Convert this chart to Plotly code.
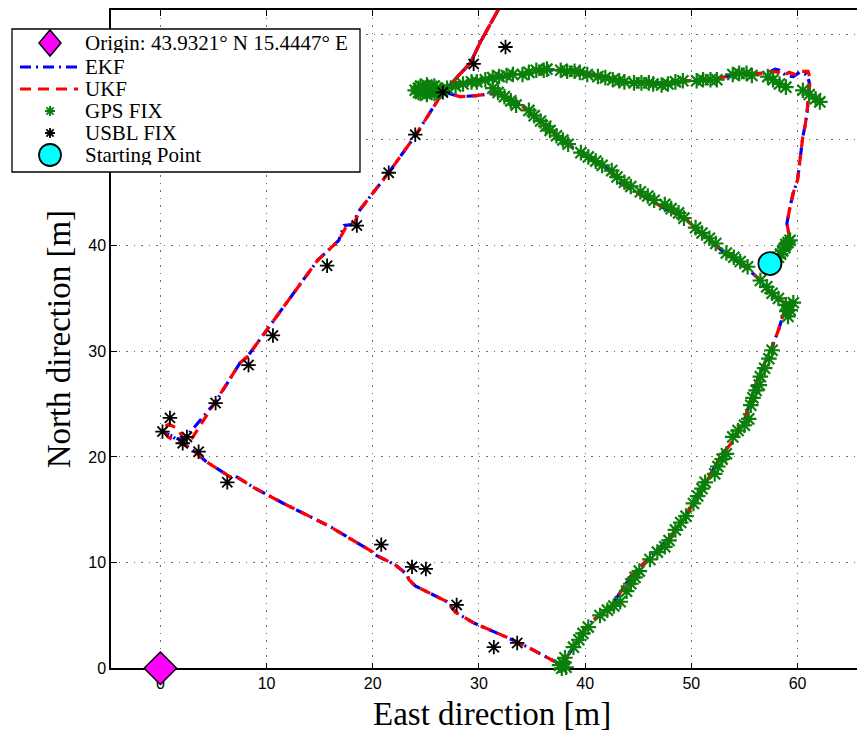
import plotly.graph_objects as go

# ---------------- data (metres, East / North) ----------------
ukf_x = [57.4, 58.2, 59.3, 59.0, 59.3, 59.6, 60.0, 60.5, 60.7, 60.9, 61.0, 61.2, 61.0, 60.4, 59.8, 59.2,
         58.7, 58.2, 57.6, 57.0, 56.5, 54.8, 53.4, 51.8, 49.6, 48.0, 46.4, 44.3, 42.7, 40.8, 39.5, 37.4,
         36.1, 33.9, 31.7, 30.1, 28.0, 26.6, 25.5,
         26.6, 29.2, 30.1, 31.8, 33.5, 31.8, 30.1, 29.2, 26.6, 24.0, 21.5, 18.8, 18.3, 17.5, 16.8, 15.3,
         14.8, 11.6, 8.2, 7.5, 5.2, 3.0, 2.4, 1.6, 0.8, 0.2, 0.7, 1.6, 2.4,
         3.1, 4.4, 6.6, 6.9, 8.8, 11.6, 16.0, 17.0, 20.0, 20.1, 22.1, 23.2, 23.4, 24.0, 27.0, 27.8, 29.5,
         32.7, 34.6, 37.4,
         37.9, 38.9, 39.5, 40.8, 42.4, 44.3, 45.2, 46.8, 48.0, 49.2, 50.2, 51.5, 52.7, 54.0, 55.1, 55.7,
         56.2, 57.6, 58.2, 58.7, 59.3, 59.0, 58.6, 57.3, 56.2, 55.4, 54.0, 52.4, 50.2, 49.4, 47.7, 44.9,
         43.3, 42.1, 39.3, 36.7, 34.2, 32.0, 30.4, 29.8, 28.2, 27.0, 26.5]
ukf_y = [38.3, 38.9, 40.5, 42.1, 43.7, 45.0, 46.2, 50.3, 51.3, 52.6, 53.8, 55.7, 56.5, 56.5, 56.2, 56.4,
         56.1, 56.4, 56.5, 56.4, 56.3, 56.3, 56.0, 55.7, 55.6, 55.4, 55.4, 55.4, 55.7, 56.2, 56.5, 56.6,
         56.6, 56.2, 55.9, 55.7, 55.4, 54.9, 54.7,
         54.5, 57.3, 59.2, 62.3, 64.5, 62.3, 59.2, 57.3, 54.5, 50.4, 46.9, 43.4, 42.2, 41.8, 40.5, 39.1,
         38.6, 34.2, 29.5, 28.9, 25.2, 21.8, 21.4, 22.7, 23.1, 22.7, 21.9, 21.4, 21.1,
         20.6, 19.5, 18.1, 18.3, 17.1, 15.6, 13.4, 12.8, 11.0, 10.8, 9.8, 8.9, 8.4, 7.8, 6.3, 5.3, 4.3,
         2.9, 2.0, 0.5,
         0.5, 2.0, 3.0, 4.6, 5.8, 8.7, 9.6, 11.2, 12.4, 14.0, 15.6, 17.8, 20.0, 21.6, 23.8, 25.7,
         27.3, 30.4, 32.0, 33.6, 34.0, 34.5, 34.7, 35.6, 37.0, 37.7, 38.7, 39.9, 41.8, 42.6, 43.4, 45.0,
         45.9, 47.3, 48.9, 51.0, 53.1, 54.5, 54.3, 54.2, 54.1, 54.4, 54.6]

ekf_x = [57.4, 58.2, 59.3, 59.0, 59.3, 59.6, 60.0, 60.5, 60.7, 60.9, 61.0, 61.1, 60.8, 60.2, 59.6, 58.9,
         58.3, 57.9, 57.3, 56.5, 54.8, 53.4, 51.8, 49.6, 48.0, 46.4, 44.3, 42.7, 40.8, 39.5, 37.4,
         36.1, 33.9, 31.7, 30.1, 28.0, 26.6, 25.5,
         26.6, 29.2, 30.1, 31.8, 33.5, 31.8, 30.1, 29.2, 26.6, 24.0, 21.5, 18.8, 18.0, 17.3, 16.8, 15.3,
         14.8, 11.6, 8.2, 7.5, 5.2, 2.6, 1.9, 0.2, 1.0, 2.4,
         3.1, 4.4, 6.6, 6.9, 8.8, 11.6, 16.0, 17.0, 20.0, 20.1, 22.1, 23.2, 23.4, 24.0, 27.0, 27.8, 29.5,
         32.7, 34.6, 37.4,
         37.9, 38.9, 39.5, 40.8, 42.4, 44.3, 45.2, 46.8, 48.0, 49.2, 50.2, 51.5, 52.7, 54.0, 55.1, 55.7,
         56.2, 57.6, 58.2, 58.7, 59.3, 59.0, 58.6, 57.3, 56.2, 55.4, 54.0, 52.4, 50.2, 49.4, 47.7, 44.9,
         43.3, 42.1, 39.3, 36.7, 34.2, 32.0, 30.4, 29.8, 28.2, 27.0, 26.5]
ekf_y = [38.3, 38.9, 40.5, 42.1, 43.7, 45.0, 46.2, 50.3, 51.3, 52.6, 53.8, 55.5, 56.2, 56.4, 56.0, 56.1,
         56.6, 56.7, 56.4, 56.3, 56.3, 56.0, 55.7, 55.6, 55.4, 55.4, 55.4, 55.7, 56.2, 56.5, 56.6,
         56.6, 56.2, 55.9, 55.7, 55.4, 54.9, 54.7,
         54.5, 57.3, 59.2, 62.3, 64.5, 62.3, 59.2, 57.3, 54.5, 50.4, 46.9, 43.4, 42.0, 41.9, 40.5, 39.1,
         38.6, 34.2, 29.5, 28.9, 25.2, 22.1, 21.6, 22.4, 22.0, 21.1,
         20.6, 19.5, 18.1, 18.3, 17.1, 15.6, 13.4, 12.8, 11.0, 10.8, 9.8, 8.9, 8.4, 7.8, 6.3, 5.3, 4.3,
         2.9, 2.0, 0.5,
         0.5, 2.0, 3.0, 4.6, 5.8, 8.7, 9.6, 11.2, 12.4, 14.0, 15.6, 17.8, 20.0, 21.6, 23.8, 25.7,
         27.3, 30.4, 32.0, 33.6, 34.0, 34.5, 34.7, 35.6, 37.0, 37.7, 38.7, 39.9, 41.8, 42.6, 43.4, 45.0,
         45.9, 47.3, 48.9, 51.0, 53.1, 54.5, 54.3, 54.2, 54.1, 54.4, 54.6]

gps_x = [24.0, 24.5, 24.5, 25.1, 25.1, 25.8, 25.8, 26.4, 25.2, 24.8, 25.5, 24.3, 24.3, 26.0, 26.0, 25.2,
         27.0, 27.8, 28.5, 29.3, 29.8,
         30.6, 31.3, 31.9, 32.6, 33.2,
         34.1, 34.7, 35.4, 36.1, 36.4,
         37.7, 38.3, 39.0, 39.5, 40.2,
         41.2, 41.9, 42.6, 43.2, 43.7,
         44.6, 45.3, 46.0, 46.4,
         47.2, 47.8, 48.5, 49.2,
         50.5, 51.1, 51.8, 52.4,
         53.9, 54.5, 55.2, 55.7,
         57.2, 57.7, 58.3, 58.9,
         60.5, 61.1, 61.7, 62.1,
         31.3, 31.8, 32.4, 33.0, 33.5,
         34.7, 35.2, 35.8, 36.3,
         36.7, 37.3, 37.9, 38.4,
         39.6, 40.3, 41.0, 41.6,
         42.5, 43.0, 43.7, 44.3,
         45.2, 45.9, 46.5,
         47.5, 48.1, 48.8, 49.3,
         50.4, 51.0, 51.7, 52.3,
         53.3, 54.0, 54.6, 55.3,
         56.5, 57.1, 57.6, 58.2,
         58.9, 59.3, 59.1, 59.6, 59.0,
         58.2, 58.6, 58.9, 59.3, 58.4, 58.8, 59.1,
         37.9, 38.1, 37.8, 37.6, 38.2,
         38.9, 39.4, 39.8, 40.3,
         41.4, 42.1, 42.7, 43.3,
         43.9, 44.3, 44.7, 45.1,
         46.1, 46.8, 47.5, 47.9,
         48.5, 49.0, 49.5,
         50.2, 50.6, 51.0, 51.3,
         52.2, 52.5, 52.9, 53.3,
         53.9, 54.4, 55.0, 55.4,
         55.6, 55.8, 56.1, 56.4,
         56.5, 56.9, 57.3, 57.6]
gps_y = [54.7, 55.1, 54.4, 55.2, 54.3, 55.1, 54.4, 54.7, 54.7, 54.8, 54.6, 54.9, 54.5, 54.9, 54.5, 55.0,
         54.9, 55.1, 55.3, 55.5, 55.5,
         55.7, 55.9, 56.0, 56.1, 56.2,
         56.2, 56.4, 56.6, 56.6, 56.7,
         56.6, 56.5, 56.5, 56.4, 56.2,
         56.0, 55.9, 55.7, 55.6, 55.5,
         55.4, 55.4, 55.4, 55.3,
         55.2, 55.3, 55.5, 55.6,
         55.6, 55.7, 55.7, 55.7,
         56.2, 56.3, 56.3, 56.1,
         56.0, 55.7, 55.3, 55.0,
         54.7, 54.3, 53.9, 53.6,
         54.9, 54.5, 54.1, 53.7, 53.3,
         52.8, 52.3, 51.8, 51.3,
         50.9, 50.4, 50.0, 49.6,
         48.8, 48.4, 48.0, 47.6,
         47.1, 46.5, 46.0, 45.6,
         45.1, 44.7, 44.3,
         43.9, 43.5, 43.1, 42.6,
         41.7, 41.2, 40.7, 40.2,
         39.3, 38.9, 38.5, 38.0,
         36.7, 36.1, 35.5, 35.0,
         34.4, 33.9, 33.3, 34.6, 33.8,
         38.9, 39.5, 40.1, 40.5, 39.2, 39.8, 40.3,
         0.5, 1.0, 0.0, 0.3, 0.1,
         2.0, 2.7, 3.3, 3.9,
         5.0, 5.5, 5.9, 6.3,
         7.3, 8.0, 8.6, 9.2,
         10.3, 11.0, 11.5, 12.1,
         13.1, 13.8, 14.4,
         15.6, 16.3, 17.0, 17.6,
         18.4, 19.1, 19.8, 20.3,
         21.9, 22.5, 23.0, 23.6,
         24.9, 25.6, 26.3, 26.8,
         27.6, 28.4, 29.3, 30.1]

usbl_x = [32.5, 29.5, 26.6, 24.0, 21.5, 18.5, 15.7, 10.6, 8.3, 5.2, 0.9, 0.2, 2.1, 2.5, 3.6, 6.3,
          20.8, 23.7, 25.0, 27.9, 31.4, 33.6]
usbl_y = [58.8, 57.2, 54.5, 50.5, 46.9, 41.9, 38.1, 31.5, 28.7, 25.1, 23.7, 22.4, 21.3, 21.9, 20.5, 17.6,
          11.7, 9.6, 9.4, 6.0, 2.0, 2.4]

origin_x = [0.0]
origin_y = [0.0]
start_x = [57.4]
start_y = [38.3]

x_ticks = [0, 10, 20, 30, 40, 50, 60]
x_tick_labels = ["0", "10", "20", "30", "40", "50", "60"]
y_ticks = [0, 10, 20, 30, 40, 50, 60]
# labels 50 and 60 sit behind the legend box in the original, so they are not visible
y_tick_labels = ["0", "10", "20", "30", "40", "", ""]

legend_labels = ["Origin: 43.9321° N 15.4447° E", "EKF", "UKF", "GPS FIX", "USBL FIX", "Starting Point"]

# ---------------- layout constants (pixels) ----------------
W, H = 857, 734
PLOT_L, PLOT_R, PLOT_T, PLOT_B = 111, 857, 10, 668.3
LEG_L, LEG_R, LEG_T, LEG_B = 12, 360, 29, 172


def px(x):
    return x / W


def py(y):
    return 1 - y / H


EKF_STYLE = dict(color="#0000ff", width=3.2, dash="11px,5px,2px,5px")
UKF_STYLE = dict(color="#ff0000", width=3.2, dash="11px,7px")
GPS_COLOR = "#0a800a"
GPS_MARK = dict(symbol="asterisk-open", size=13, color=GPS_COLOR, line=dict(color=GPS_COLOR, width=2.2))
USBL_MARK = dict(symbol="asterisk-open", size=12, color="black", line=dict(color="black", width=1.8))
ORIGIN_MARK = dict(symbol="diamond", size=25, color="#ff00ff", line=dict(color="black", width=1.5))
START_MARK = dict(symbol="circle", size=23, color="#00ffff", line=dict(color="black", width=1.8))

fig = go.Figure()

fig.add_trace(go.Scatter(x=ekf_x, y=ekf_y, mode="lines", name="EKF", line=EKF_STYLE))
fig.add_trace(go.Scatter(x=ukf_x, y=ukf_y, mode="lines", name="UKF", line=UKF_STYLE))
fig.add_trace(go.Scatter(x=gps_x, y=gps_y, mode="markers", name="GPS FIX", cliponaxis=False, marker=GPS_MARK))
fig.add_trace(go.Scatter(x=usbl_x, y=usbl_y, mode="markers", name="USBL FIX", marker=USBL_MARK))
fig.add_trace(go.Scatter(x=origin_x, y=origin_y, mode="markers", name=legend_labels[0],
                         cliponaxis=False, marker=ORIGIN_MARK))
fig.add_trace(go.Scatter(x=start_x, y=start_y, mode="markers", name="Starting Point", marker=START_MARK))

# ---------------- hand-made legend drawn on top (paper coordinates) ----------------
row_px = [43, 67, 89, 111, 133, 155]
sym_cx = 50
txt_px = 83

shapes = []
shapes.append(dict(type="rect", xref="paper", yref="paper", x0=px(LEG_L), x1=px(LEG_R),
                   y0=py(LEG_B), y1=py(LEG_T), fillcolor="white",
                   line=dict(color="black", width=1.3), layer="above"))
cy = row_px[0]
shapes.append(dict(type="path", xref="paper", yref="paper", layer="above",
                   path=f"M{px(sym_cx)},{py(cy - 13)} L{px(sym_cx + 11)},{py(cy)} "
                        f"L{px(sym_cx)},{py(cy + 13)} L{px(sym_cx - 11)},{py(cy)} Z",
                   fillcolor="#ff00ff", line=dict(color="black", width=1.5)))
for ry, st in ((row_px[1], EKF_STYLE), (row_px[2], UKF_STYLE)):
    shapes.append(dict(type="line", xref="paper", yref="paper", layer="above",
                       x0=px(20), x1=px(78), y0=py(ry), y1=py(ry), line=st))
for ry, col, r, lw in ((row_px[3], GPS_COLOR, 5, 2.0), (row_px[4], "black", 5, 1.8)):
    d = r * 0.72
    p = (f"M{px(sym_cx - r)},{py(ry)} L{px(sym_cx + r)},{py(ry)} "
         f"M{px(sym_cx)},{py(ry - r)} L{px(sym_cx)},{py(ry + r)} "
         f"M{px(sym_cx - d)},{py(ry - d)} L{px(sym_cx + d)},{py(ry + d)} "
         f"M{px(sym_cx - d)},{py(ry + d)} L{px(sym_cx + d)},{py(ry - d)}")
    shapes.append(dict(type="path", xref="paper", yref="paper", layer="above", path=p,
                       line=dict(color=col, width=lw)))
cy = row_px[5]
shapes.append(dict(type="circle", xref="paper", yref="paper", layer="above",
                   x0=px(sym_cx - 11), x1=px(sym_cx + 11), y0=py(cy + 11), y1=py(cy - 11),
                   fillcolor="#00ffff", line=dict(color="black", width=1.8)))

annotations = []
for lab, ry in zip(legend_labels, row_px):
    annotations.append(dict(x=px(txt_px), y=py(ry), xref="paper", yref="paper", text=lab,
                            showarrow=False, xanchor="left", yanchor="middle", height=20,
                            font=dict(family="Liberation Serif, Times New Roman", size=21, color="black")))
title_font = dict(family="Liberation Serif, Times New Roman", size=33, color="black")
annotations.append(dict(x=px(492), y=py(714), xref="paper", yref="paper", text="East direction [m]",
                        showarrow=False, xanchor="center", yanchor="middle", font=title_font))

axis_common = dict(showgrid=True, gridcolor="#6e6e6e", griddash="1.5px,6px", gridwidth=1,
                   zeroline=False, showline=True, linecolor="black", linewidth=1.5,
                   ticks="inside", ticklen=6, tickcolor="black", tickwidth=1,
                   tickfont=dict(family="Liberation Sans, Arial", size=16, color="black"),
                   layer="below traces")

fig.update_layout(
    width=W, height=H,
    margin=dict(l=0, r=0, t=0, b=0, autoexpand=False),
    paper_bgcolor="white", plot_bgcolor="white",
    showlegend=False,
    shapes=shapes,
    annotations=annotations,
    xaxis=dict(domain=[px(PLOT_L), px(PLOT_R)], range=[-4.65, 65.6], tickvals=x_ticks,
               ticktext=x_tick_labels, mirror="ticks", **axis_common),
    yaxis=dict(domain=[py(PLOT_B), py(PLOT_T)], range=[0, 62.3], tickvals=y_ticks,
               ticktext=y_tick_labels, mirror=False,
               title=dict(text="North direction [m]", standoff=8, font=title_font), **axis_common),
)

fig.write_html("out.html")
